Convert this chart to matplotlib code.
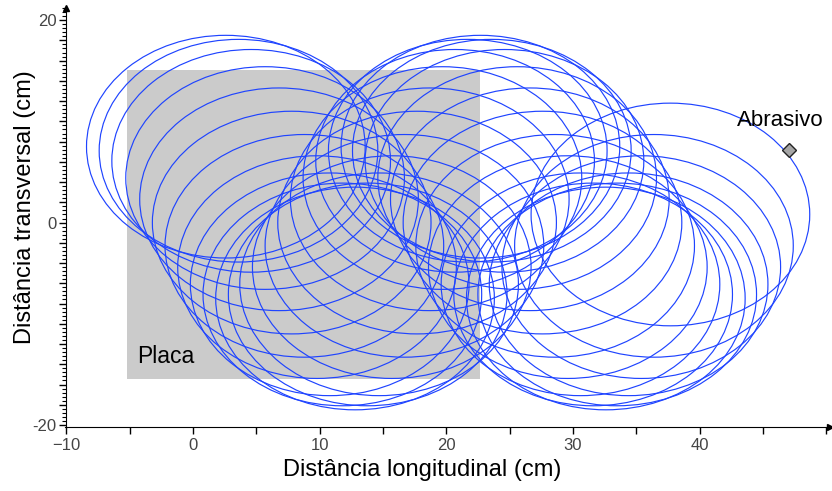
import matplotlib.pyplot as plt
import matplotlib.patches as mpatches
from matplotlib.ticker import MultipleLocator, FixedLocator

plt.rcParams['font.family'] = ['Liberation Sans', 'DejaVu Sans']

# loop centres of the abrasive path (cm)
loop_x = [37.7, 36.4, 35.4, 34.4, 33.5, 32.6, 31.6, 30.6, 29.6, 28.6, 27.6, 26.6,
          25.6, 24.6, 23.6, 22.7, 21.7, 20.7, 19.7, 18.7, 17.7, 16.7, 15.7, 14.7,
          13.8, 12.8, 11.8, 10.8, 9.8, 8.8, 7.8, 6.8, 5.7, 4.6, 3.6, 2.6]
loop_y = [0.8, -2.3, -4.4, -6.1, -7.1, -7.5, -7.1, -6.1, -4.4, -2.3, 0.0, 2.3,
          4.4, 6.1, 7.1, 7.5, 7.1, 6.1, 4.4, 2.3, 0.0, -2.3, -4.4, -6.1,
          -7.1, -7.5, -7.1, -6.1, -4.4, -2.3, 0.0, 2.3, 4.4, 6.1, 7.1, 7.5]
loop_r = 11.0

# plate (Placa) corners
plate_x = [-5.2, 22.7]
plate_y = [-15.5, 15.1]

# abrasive start point
abr_x, abr_y = 47.1, 7.2

fig = plt.figure(figsize=(8.32, 4.91), dpi=100)
ax = fig.add_axes([0.0781, 0.1303, 0.9195, 0.8534])

# plate
ax.add_patch(mpatches.Rectangle((plate_x[0], plate_y[0]), plate_x[1] - plate_x[0],
                                plate_y[1] - plate_y[0], facecolor='#cbcbcb',
                                edgecolor='none', zorder=1))
ax.text(-4.4, -13.2, 'Placa', fontsize=16.5, ha='left', va='center', zorder=4)

# loops
for cx, cy in zip(loop_x, loop_y):
  ax.add_patch(mpatches.Circle((cx, cy), loop_r, fill=False, edgecolor='#1f44ff',
                               linewidth=0.85, zorder=2))

ax.plot([abr_x], [abr_y], marker='D', markersize=7, markerfacecolor='#a6a6a6',
        markeredgecolor='#222222', markeredgewidth=1, zorder=5, clip_on=False)
ax.text(abr_x - 0.7, abr_y + 2.9, 'Abrasivo', fontsize=16, ha='center',
        va='center', zorder=5)

ax.set_xlim(-10.1, 50.3)
ax.set_ylim(-20.2, 21.2)

# axes look
for s in ['top', 'right']:
  ax.spines[s].set_visible(False)
ax.spines['left'].set_position(('data', -10))
ax.plot(1, 0, '>k', markersize=5, transform=ax.transAxes, clip_on=False)
ax.plot(0.0017, 1, '^k', markersize=5, transform=ax.transAxes, clip_on=False)

ax.xaxis.set_major_locator(FixedLocator([-10, 0, 10, 20, 30, 40]))
ax.xaxis.set_minor_locator(FixedLocator([-5, 5, 15, 25, 35, 45, 50]))
ax.tick_params(axis='x', which='both', direction='out', length=5, width=1,
               labelsize=12, labelcolor='#444444', pad=3)

ax.yaxis.set_major_locator(MultipleLocator(2))
ax.yaxis.set_major_formatter(lambda v, p: '%d' % round(v) if round(v) in (-20, 0, 20) else '')
ax.yaxis.set_minor_locator(MultipleLocator(0.4))
ax.tick_params(axis='y', which='major', direction='out', length=5, width=1,
               labelsize=12, labelcolor='#444444', pad=2)
ax.tick_params(axis='y', which='minor', direction='out', length=3, width=0.8)

fig.text(0.507, 0.043, 'Distância longitudinal (cm)', fontsize=17,
         ha='center', va='center')
fig.text(0.030, 0.578, 'Distância transversal (cm)', fontsize=17,
         ha='center', va='center', rotation=90)

plt.savefig('out.png')
